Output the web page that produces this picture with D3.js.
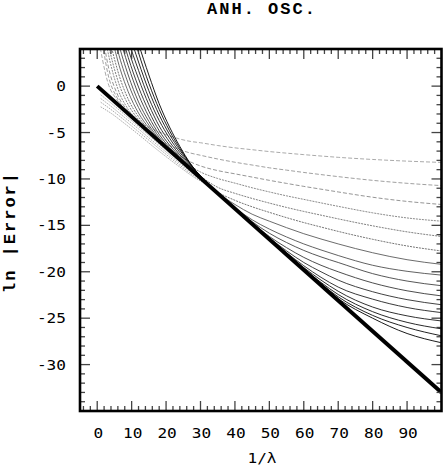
<!DOCTYPE html>
<html>
  <head>
    <title>ANH. OSC.</title>
    <script src="https://d3js.org/d3.v7.min.js"></script>
    <style>
      body { margin: 0; background: #fff; }
      .tick-label { font-family: "DejaVu Sans Mono", monospace; font-size: 14px; }
      .mono-bold { font-family: "Liberation Mono", "Courier New", monospace; font-weight: bold; font-size: 17px; letter-spacing: 2px; }
    </style>
  </head>
  <body>
    <svg></svg>
<script>
// x positions where the approximant curves were read off
const xGrid = [0, 3, 6, 9, 12, 15, 18, 21, 24, 27, 30, 35, 40, 45, 50, 55, 60, 65, 70, 80, 90, 100];

// ln|Error| of each approximant, lightest (lowest order) first
const e01 = [6, 0.5, -1.6, -2.85, -3.8, -4.4, -4.95, -5.35, -5.7, -5.95, -6.1, -6.4, -6.65, -6.85, -7.05, -7.22, -7.38, -7.53, -7.67, -7.9, -8.08, -8.22];
const e02 = [9, 1.5, -1.4, -2.8, -3.95, -4.95, -5.8, -6.4, -6.85, -7.2, -7.45, -7.85, -8.2, -8.5, -8.8, -9.05, -9.3, -9.53, -9.75, -10.15, -10.47, -10.72];
const e03 = [10, 2.5, -1.0, -2.7, -3.9, -4.9, -5.85, -6.75, -7.5, -8.15, -8.6, -9.1, -9.45, -9.8, -10.15, -10.48, -10.8, -11.1, -11.4, -11.97, -12.42, -12.75];
const e04 = [11, 3.9, -0.3, -2.5, -3.8, -4.85, -5.85, -6.85, -7.8, -8.6, -9.25, -9.95, -10.45, -10.95, -11.4, -11.82, -12.2, -12.58, -12.95, -13.65, -14.2, -14.55];
const e05 = [12, 5, 0.6, -2.0, -3.6, -4.8, -5.85, -6.85, -7.85, -8.8, -9.7, -10.9, -11.55, -12.1, -12.6, -13.07, -13.5, -13.9, -14.3, -15.05, -15.7, -16.2];
const e06 = [13, 6.2, 1.6, -1.4, -3.3, -4.7, -5.85, -6.9, -7.9, -8.9, -9.85, -11.4, -12.3, -13.0, -13.6, -14.17, -14.7, -15.18, -15.65, -16.5, -17.22, -17.76];
const e07 = [14, 7.5, 2.7, -0.6, -2.9, -4.5, -5.8, -6.9, -7.9, -8.9, -9.9, -11.5, -12.75, -13.8, -14.55, -15.25, -15.9, -16.47, -17.0, -17.95, -18.7, -19.2];
const e08 = [15, 9, 3.8, 0.3, -2.3, -4.2, -5.7, -6.9, -7.9, -8.9, -9.9, -11.5, -13.1, -14.4, -15.4, -16.25, -17.0, -17.65, -18.25, -19.3, -19.95, -20.36];
const e09 = [16, 10, 4.9, 1.2, -1.7, -3.8, -5.5, -6.8, -7.85, -8.85, -9.85, -11.5, -13.15, -14.6, -15.85, -16.85, -17.7, -18.4, -19.0, -20.2, -21.0, -21.5];
const e10 = [17, 11, 6.0, 2.2, -0.9, -3.3, -5.2, -6.6, -7.75, -8.8, -9.8, -11.5, -13.15, -14.75, -16.2, -17.4, -18.45, -19.3, -20.0, -21.2, -22.05, -22.6];
const e11 = [18, 12, 7.1, 3.1, -0.1, -2.7, -4.8, -6.35, -7.6, -8.7, -9.8, -11.5, -13.15, -14.8, -16.35, -17.75, -19.0, -20.0, -20.9, -22.15, -23.0, -23.55];
const e12 = [19, 13, 8.2, 4.0, 0.8, -2.0, -4.3, -6.0, -7.4, -8.6, -9.75, -11.5, -13.15, -14.82, -16.42, -17.95, -19.35, -20.6, -21.65, -22.95, -23.85, -24.4];
const e13 = [20, 14, 9.3, 5.0, 1.7, -1.3, -3.7, -5.6, -7.15, -8.5, -9.7, -11.5, -13.15, -14.82, -16.45, -18.05, -19.55, -20.9, -22.1, -23.8, -24.75, -25.3];
const e14 = [21, 15, 10.4, 6.1, 2.6, -0.5, -3.1, -5.2, -6.9, -8.4, -9.7, -11.5, -13.15, -14.82, -16.47, -18.1, -19.7, -21.15, -22.45, -24.3, -25.45, -26.15];
const e15 = [22, 16, 11.5, 7.6, 3.6, 0.3, -2.5, -4.8, -6.7, -8.35, -9.7, -11.5, -13.15, -14.82, -16.47, -18.12, -19.75, -21.3, -22.7, -24.7, -26.0, -26.9];
const e16 = [23, 17, 12.5, 8.6, 4.6, 1.2, -1.9, -4.4, -6.5, -8.3, -9.7, -11.5, -13.15, -14.82, -16.47, -18.12, -19.78, -21.4, -22.9, -25.0, -26.65, -27.65];
const approximants = [e01, e02, e03, e04, e05, e06, e07, e08, e09, e10, e11, e12, e13, e14, e15, e16];

// the light gray band just under the thick line at small 1/lambda
const bandX = [1, 4, 8, 12, 16, 20, 24, 28, 31];
const band1 = [-0.93, -1.82, -3.09, -4.36, -5.63, -6.9, -8.12, -9.34, -10.28];
const band2 = [-1.33, -2.17, -3.39, -4.61, -5.88, -7.1, -8.32, -9.49, -10.33];
const band3 = [-1.73, -2.52, -3.69, -4.91, -6.13, -7.35, -8.52, -9.64, -10.38];
const band4 = [-2.23, -2.92, -4.04, -5.21, -6.43, -7.6, -8.72, -9.79, -10.43];
const bands = [band1, band2, band3, band4];

// thick straight line
const asymX = [0, 100];
const asymY = [0, -33];

const xTicks = [0, 10, 20, 30, 40, 50, 60, 70, 80, 90];
const yTicks = [0, -5, -10, -15, -20, -25, -30];

const width = 443, height = 468,
    margin = { top: 49, right: 1.5, bottom: 57, left: 80 },
    innerWidth = width - margin.left - margin.right,
    innerHeight = height - margin.top - margin.bottom;

const svg = d3.select('svg')
    .attr('width', width)
    .attr('height', height)
    .style('display', 'block');

const x = d3.scaleLinear().domain([-5, 100]).range([0, innerWidth]);
const y = d3.scaleLinear().domain([4, -35]).range([0, innerHeight]);

const g = svg.append('g')
    .attr('transform', 'translate(' + margin.left + ',' + margin.top + ')');

g.append('clipPath').attr('id', 'plotClip')
  .append('rect').attr('width', innerWidth).attr('height', innerHeight);

const plot = g.append('g').attr('clip-path', 'url(#plotClip)');

const line = d3.line()
    .x(d => x(d[0]))
    .y(d => y(d[1]))
    .curve(d3.curveMonotoneX);

const shade = d3.scaleLinear().domain([0, 11, 15]).range(['#a0a0a0', '#222', '#000']);

/***** BAND *****/
bands.forEach(b => {
  plot.append('path')
      .datum(bandX.map((v, i) => [v, b[i]]))
      .attr('d', line)
      .attr('fill', 'none')
      .attr('stroke', '#a0a0a0')
      .attr('stroke-width', 0.9)
      .attr('stroke-dasharray', '1.5,1');
});

/***** APPROXIMANTS *****/
approximants.forEach((vals, k) => {
  plot.append('path')
      .datum(xGrid.map((v, i) => [v, vals[i]]))
      .attr('d', line)
      .attr('fill', 'none')
      .attr('stroke', shade(k))
      .attr('stroke-width', 0.9)
      .attr('stroke-dasharray', k < 3 ? '4,2' : (k < 6 ? '2,1' : null));
});

/***** THICK LINE *****/
plot.append('path')
    .datum(asymX.map((v, i) => [v, asymY[i]]))
    .attr('d', d3.line().x(d => x(d[0])).y(d => y(d[1])))
    .attr('fill', 'none')
    .attr('stroke', '#000')
    .attr('stroke-width', 4);

/***** TICKS (inward, all four sides) *****/
const xMinor = d3.range(-4, 100, 2);
const yMinor = d3.range(-34, 5, 1);

const ticks = g.append('g').attr('stroke', '#444').attr('stroke-width', 1.3);
xMinor.forEach(v => {
  const len = v % 10 === 0 ? 10 : 5;
  ticks.append('line').attr('x1', x(v)).attr('x2', x(v)).attr('y1', innerHeight).attr('y2', innerHeight - len);
  ticks.append('line').attr('x1', x(v)).attr('x2', x(v)).attr('y1', 0).attr('y2', len);
});
yMinor.forEach(v => {
  const len = v % 5 === 0 ? 10 : 5;
  ticks.append('line').attr('y1', y(v)).attr('y2', y(v)).attr('x1', 0).attr('x2', len);
  ticks.append('line').attr('y1', y(v)).attr('y2', y(v)).attr('x1', innerWidth).attr('x2', innerWidth - len);
});

// frame
g.append('rect')
    .attr('width', innerWidth)
    .attr('height', innerHeight)
    .attr('fill', 'none')
    .attr('stroke', '#000')
    .attr('stroke-width', 2.6);

/***** LABELS *****/
// wide monospace digits in the original, so stretch them a bit
g.selectAll('text.xl').data(xTicks).enter().append('text')
    .attr('class', 'tick-label')
    .attr('transform', d => 'translate(' + (x(d) + 1) + ',' + (innerHeight + 27) + ') scale(1.15,1)')
    .attr('text-anchor', 'middle')
    .text(d => d);

g.selectAll('text.yl').data(yTicks).enter().append('text')
    .attr('class', 'tick-label')
    .attr('transform', d => 'translate(-14,' + y(d) + ') scale(1.15,1)')
    .attr('dy', '0.36em')
    .attr('text-anchor', 'end')
    .text(d => d < 0 ? '-' + Math.abs(d) : d);

svg.append('text')
    .attr('class', 'mono-bold')
    .attr('x', 262)
    .attr('y', 14)
    .attr('text-anchor', 'middle')
    .text('ANH. OSC.');

svg.append('text')
    .attr('class', 'tick-label')
    .attr('transform', 'translate(262,463) scale(1.15,1)')
    .attr('text-anchor', 'middle')
    .text('1/λ');

svg.append('text')
    .attr('class', 'mono-bold')
    .attr('transform', 'translate(15,232) rotate(-90)')
    .attr('text-anchor', 'middle')
    .text('ln |Error|');
</script>
  </body>
</html>
